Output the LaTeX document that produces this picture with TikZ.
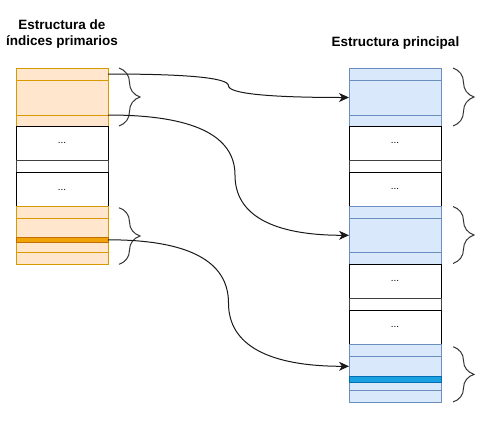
\documentclass[tikz,border=0pt]{standalone}
\usepackage{fontspec}
\setmainfont{Liberation Sans}
\usetikzlibrary{arrows.meta,decorations.pathreplacing,calc}
\definecolor{ocfill}{HTML}{FFE6CC}
\definecolor{ocline}{HTML}{D79B00}
\definecolor{ohfill}{HTML}{F0A30A}
\definecolor{ohline}{HTML}{BD7000}
\definecolor{bcfill}{HTML}{DAE8FC}
\definecolor{bcline}{HTML}{6C8EBF}
\definecolor{bhfill}{HTML}{1BA1E2}
\definecolor{bhline}{HTML}{006EAF}
\definecolor{brcol}{HTML}{333333}
\tikzset{
  cell/.style={rectangle, draw, line width=1pt, minimum width=92pt, inner sep=0pt, outer sep=0pt, anchor=north west, font=\fontsize{10}{12}\selectfont},
  oc/.style={cell, fill=ocfill, draw=ocline},
  oh/.style={cell, fill=ohfill, draw=ohline},
  bc/.style={cell, fill=bcfill, draw=bcline},
  bh/.style={cell, fill=bhfill, draw=bhline},
  wc/.style={cell, fill=white, draw=black},
  wg/.style={cell, fill=white, draw=black!75},
  arr/.style={draw=black!90, line width=1pt, -{Stealth[length=10pt,width=9pt,inset=3pt]}},
  brc/.style={draw=brcol, line width=1pt, decorate, decoration={brace, amplitude=21pt}},
  ttl/.style={font=\fontsize{13.5}{16}\selectfont\bfseries, inner sep=0pt, align=center}
}
\begin{document}
\begin{tikzpicture}[x=1pt,y=-1pt]
\useasboundingbox[fill=white] (0,0) rectangle (504,426);
% titles
\node[ttl] (tl) at (62,34) {Estructura de\\índices primarios};
\node[ttl, anchor=base] (tr) at (395.5,46) {Estructura principal};
% left column
\node[oc, minimum height=12pt] (L1a) at (16,68) {};
\node[oc, minimum height=35pt] (L1b) at (16,80) {};
\node[oc, minimum height=11pt] (L1c) at (16,115) {};
\node[wc, minimum height=34.7pt] (LW1) at (16,126) {...};
\node[wg, minimum height=11.6pt] (LW2) at (16,160.7) {};
\node[wc, minimum height=34.4pt] (LW3) at (16,172.3) {...};
\node[oc, minimum height=11.6pt] (L2a) at (16,206.7) {};
\node[oc, minimum height=19pt] (L2b) at (16,218.3) {};
\node[oc, minimum height=10.4pt] (L2c) at (16,242.3) {};
\node[oc, minimum height=11.6pt] (L2d) at (16,252.7) {};
\node[oh, minimum height=5pt] (L2h) at (16,237.3) {};
% right column
\node[bc, minimum height=12pt] (R1a) at (349,68) {};
\node[bc, minimum height=35pt] (R1b) at (349,80) {};
\node[bc, minimum height=11pt] (R1c) at (349,115) {};
\node[wc, minimum height=34.7pt] (RW1) at (349,126) {...};
\node[wg, minimum height=11.6pt] (RW2) at (349,160.7) {};
\node[wc, minimum height=34.2pt] (RW3) at (349,172.3) {...};
\node[bc, minimum height=11.8pt] (R2a) at (349,206.5) {};
\node[bc, minimum height=34pt] (R2b) at (349,218.3) {};
\node[bc, minimum height=11.7pt] (R2c) at (349,252.3) {};
\node[wc, minimum height=34.7pt] (RW4) at (349,264) {...};
\node[wg, minimum height=11.3pt] (RW5) at (349,298.7) {};
\node[wc, minimum height=34.3pt] (RW6) at (349,310) {...};
\node[bc, minimum height=12pt] (R3a) at (349,344.3) {};
\node[bc, minimum height=20pt] (R3b) at (349,356.3) {};
\node[bc, minimum height=8.4pt] (R3c) at (349,382.3) {};
\node[bc, minimum height=11.3pt] (R3d) at (349,390.7) {};
\node[bh, minimum height=6pt] (R3h) at (349,376.3) {};
% braces
\draw[brc] (119,68) -- (119,126);
\draw[brc] (119,207.7) -- (119,264.3);
\draw[brc] (453,68) -- (453,126);
\draw[brc] (453,206.5) -- (453,263.5);
\draw[brc] (453,346.7) -- (453,402);
% connectors
\coordinate (m1) at ($(L1a.east)!0.5!(R1b.west)$);
\coordinate (m2) at (235,175.15);
\coordinate (m3) at ($(L2h.east)!0.5!(R3b.west)$);
\draw[arr] (L1a.east) .. controls +(80.67,0) and +(0,-7.83) .. (m1)
  .. controls +(0,7.83) and +(-80,0) .. (R1b.west);
\draw[arr] (L1b.south east) .. controls +(84.67,0) and +(0,-40.1) .. (m2)
  .. controls +(0,40.1) and +(-76,0) .. (R2b.west);
\draw[arr] (L2h.east) .. controls +(80.33,0) and +(0,-42.1) .. (m3)
  .. controls +(0,42.1) and +(-80.33,0) .. (R3b.west);
\end{tikzpicture}
\end{document}
